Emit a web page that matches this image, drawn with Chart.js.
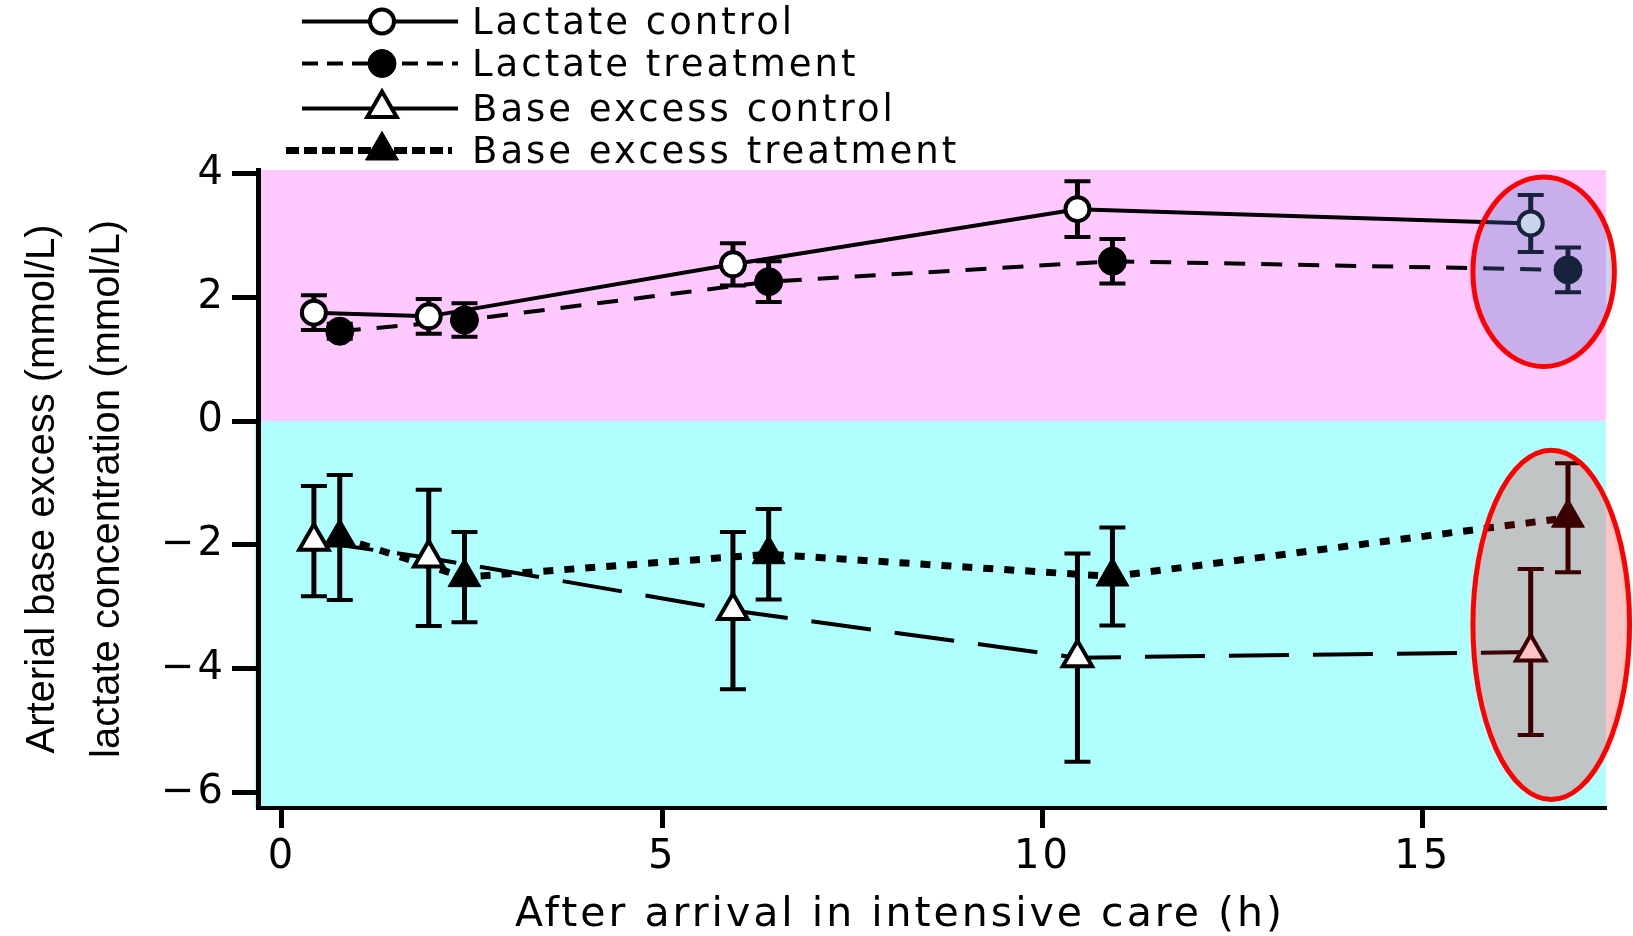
<!DOCTYPE html>
<html lang="en">
<head>
  <meta charset="UTF-8" />
  <title>Lactate and base excess after arrival in intensive care</title>
  <script src="https://cdn.jsdelivr.net/npm/chart.js"></script>
  <style>
    * {
      margin: 0;
      padding: 0;
      box-sizing: border-box;
    }
    body {
      background: #fff;
      width: 1633px;
      height: 936px;
      overflow: hidden;
    }
    #wrap {
      position: relative;
      width: 1633px;
      height: 936px;
    }
    #legend {
      position: absolute;
      left: 0;
      top: 0;
      width: 1000px;
      height: 170px;
    }
    .row {
      position: absolute;
      left: 0;
      width: 1000px;
      height: 43px;
    }
    .row canvas {
      position: absolute;
      left: 270px;
      top: 0;
    }
    .row span {
      position: absolute;
      left: 472px;
      top: 0;
      font: 37px 'DejaVu Sans', sans-serif;
      line-height: 43px;
      letter-spacing: 3px;
      color: #000;
      white-space: nowrap;
    }
  </style>
</head>

<body>
  <div id="wrap">
    <canvas id="grafico"></canvas>
    <div id="legend"></div>
  </div>

  <script>
    // sampling times (h) - the two groups were sampled at slightly different times
    const controlHours = [0.42, 1.93, 5.93, 10.46, 16.42];
    const treatHours = [0.76, 2.40, 6.40, 10.92, 16.91];

    // means and error bar half-lengths (mmol/L)
    const lactateControl = [1.75, 1.69, 2.53, 3.42, 3.19];
    const lactateControlErr = [0.28, 0.28, 0.34, 0.45, 0.46];
    const lactateTreat = [1.45, 1.63, 2.25, 2.58, 2.44];
    const lactateTreatErr = [0.12, 0.27, 0.33, 0.36, 0.36];
    const beControl = [-1.94, -2.21, -3.06, -3.82, -3.73];
    const beControlErr = [0.89, 1.10, 1.27, 1.68, 1.34];
    const beTreat = [-1.88, -2.52, -2.15, -2.51, -1.56];
    const beTreatErr = [1.01, 0.73, 0.73, 0.79, 0.88];

    const seriesNames = ['Lactate control', 'Lactate treatment', 'Base excess control', 'Base excess treatment'];
    const xTicks = [0, 5, 10, 15];
    const yTicks = [-6, -4, -2, 0, 2, 4];

    const errors = [lactateControlErr, lactateTreatErr, beControlErr, beTreatErr];

    // red ellipses around the last time point (data units)
    const highlights = [
      { x: 16.59, y: 2.41, rx: 0.93, ry: 1.53, fill: 'rgba(77, 117, 193, 0.3)' },
      { x: 16.69, y: -3.29, rx: 1.03, ry: 2.82, fill: 'rgba(252, 0, 0, 0.23)' }
    ];

    const toPoints = (xs, ys) => xs.map((h, i) => ({ x: h, y: ys[i] }));

    // pink area above zero, cyan below
    const bands = {
      id: 'bands',
      beforeDraw(chart) {
        const { ctx, chartArea: a, scales: { y } } = chart;
        const y0 = y.getPixelForValue(0);
        ctx.letterSpacing = '0px';
        ctx.save();
        ctx.fillStyle = '#ffc8ff';
        ctx.fillRect(a.left, a.top, a.right - a.left, y0 - a.top);
        ctx.fillStyle = '#b0ffff';
        ctx.fillRect(a.left - 3, y0, a.right - a.left + 3, a.bottom - y0);
        ctx.restore();
      }
    };

    const errorBars = {
      id: 'errorBars',
      beforeDatasetsDraw(chart) {
        const { ctx, scales: { x, y } } = chart;
        ctx.save();
        ctx.strokeStyle = '#000';
        chart.data.datasets.forEach((ds, i) => {
          ds.data.forEach((p, k) => {
            const px = x.getPixelForValue(p.x);
            const top = y.getPixelForValue(p.y + errors[i][k]);
            const bot = y.getPixelForValue(p.y - errors[i][k]);
            ctx.lineWidth = 5;
            ctx.beginPath();
            ctx.moveTo(px, top);
            ctx.lineTo(px, bot);
            ctx.stroke();
            ctx.lineWidth = 4;
            ctx.beginPath();
            ctx.moveTo(px - 13, top);
            ctx.lineTo(px + 13, top);
            ctx.moveTo(px - 13, bot);
            ctx.lineTo(px + 13, bot);
            ctx.stroke();
          });
        });
        ctx.restore();
      }
    };

    const ellipses = {
      id: 'ellipses',
      afterDatasetsDraw(chart) {
        const { ctx, scales: { x, y } } = chart;
        ctx.save();
        highlights.forEach((h) => {
          const cx = x.getPixelForValue(h.x);
          const cy = y.getPixelForValue(h.y);
          const rx = x.getPixelForValue(h.x + h.rx) - cx;
          const ry = cy - y.getPixelForValue(h.y + h.ry);
          ctx.beginPath();
          ctx.ellipse(cx, cy, rx, ry, 0, 0, Math.PI * 2);
          ctx.fillStyle = h.fill;
          ctx.fill();
          ctx.lineWidth = 5;
          ctx.strokeStyle = '#ff0000';
          ctx.stroke();
        });
        ctx.restore();
        // tick labels and x title (drawn after this) are wide in the original
        ctx.letterSpacing = '3px';
      }
    };

    Chart.defaults.font.family = "'DejaVu Sans', sans-serif";
    Chart.defaults.color = '#000';

    const grafico = new Chart(document.getElementById('grafico'), {
      type: 'line',
      data: {
        datasets: [
          {
            label: seriesNames[0],
            data: toPoints(controlHours, lactateControl),
            borderColor: '#000',
            borderWidth: 4,
            pointStyle: 'circle',
            pointRadius: 12,
            pointBorderWidth: 4,
            pointBorderColor: '#000',
            pointBackgroundColor: '#fff'
          },
          {
            label: seriesNames[1],
            data: toPoints(treatHours, lactateTreat),
            borderColor: '#000',
            borderWidth: 4,
            borderDash: [21, 16],
            pointStyle: 'circle',
            pointRadius: 14,
            pointBorderWidth: 1,
            pointBorderColor: '#000',
            pointBackgroundColor: '#000'
          },
          {
            label: seriesNames[2],
            data: toPoints(controlHours, beControl),
            borderColor: '#000',
            borderWidth: 4,
            borderDash: [60, 24],
            pointStyle: 'triangle',
            pointRadius: 17,
            pointBorderWidth: 4,
            pointBorderColor: '#000',
            pointBackgroundColor: '#fff'
          },
          {
            label: seriesNames[3],
            data: toPoints(treatHours, beTreat),
            borderColor: '#000',
            borderWidth: 7,
            borderDash: [10, 11],
            pointStyle: 'triangle',
            pointRadius: 19,
            pointBorderWidth: 1,
            pointBorderColor: '#000',
            pointBackgroundColor: '#000'
          }
        ]
      },
      options: {
        responsive: true,
        maintainAspectRatio: false,
        animation: false,
        layout: { padding: { top: 170, right: 27, bottom: 0, left: 0 } },
        elements: { line: { tension: 0 } },
        plugins: {
          legend: { display: false },
          tooltip: { enabled: false }
        },
        scales: {
          x: {
            type: 'linear',
            min: -0.315,
            max: 17.41,
            afterFit: (s) => { s.height = 128; },
            afterBuildTicks: (s) => { s.ticks = xTicks.map((v) => ({ value: v })); },
            grid: { display: true, drawOnChartArea: false, drawTicks: true, tickLength: 20, tickWidth: 5, tickColor: '#000', z: 1 },
            border: { display: true, color: '#000', width: 4, z: 2 },
            ticks: { z: 1, color: '#000', padding: 6, maxRotation: 0, font: { size: 40 } },
            title: {
              display: true,
              text: 'After arrival in intensive care (h)\u00a0\u00a0\u00a0\u00a0',
              color: '#000',
              font: { size: 41, lineHeight: 1 },
              padding: 0
            }
          },
          y: {
            min: -6.247,
            max: 4.053,
            afterFit: (s) => { s.width = 258; },
            afterBuildTicks: (s) => { s.ticks = yTicks.map((v) => ({ value: v })); },
            grid: { display: true, drawOnChartArea: false, drawTicks: true, tickLength: 26, tickWidth: 5, tickColor: '#000' },
            border: { display: true, color: '#000', width: 5 },
            ticks: {
              z: 1,
              color: '#000',
              padding: 6,
              font: { size: 40 },
              callback: (v) => (v < 0 ? '\u2212' + (-v) : String(v))
            },
            title: {
              display: true,
              text: ['Arterial base excess (mmol/L)', 'lactate concentration (mmol/L)'],
              color: '#000',
              font: { family: "'Liberation Sans', sans-serif", size: 40, lineHeight: 1.625 },
              padding: { top: 10, bottom: 0 }
            }
          }
        }
      },
      plugins: [bands, errorBars, ellipses]
    });

    // legend above the plot: line sample + marker, then the series name
    const legendTops = [0, 42, 87, 129];
    const legendDash = [[], [16, 9], [], [13, 5]];
    const legendBox = document.getElementById('legend');

    grafico.data.datasets.forEach((ds, i) => {
      const row = document.createElement('div');
      row.className = 'row';
      row.style.top = legendTops[i] + 'px';

      const c = document.createElement('canvas');
      c.width = 200;
      c.height = 43;
      const g = c.getContext('2d');
      g.strokeStyle = '#000';
      g.lineWidth = ds.borderWidth;
      g.setLineDash(legendDash[i]);
      g.beginPath();
      g.moveTo(i === 3 ? 16 : 32, 21.5);
      g.lineTo(i === 3 ? 182 : 188, 21.5);
      g.stroke();
      g.setLineDash([]);
      g.fillStyle = ds.pointBackgroundColor;
      g.lineWidth = ds.pointBorderWidth;
      Chart.helpers.drawPoint(g, {
        pointStyle: ds.pointStyle,
        radius: ds.pointRadius,
        borderWidth: ds.pointBorderWidth,
        rotation: 0
      }, 112, 21.5);

      const txt = document.createElement('span');
      txt.textContent = ds.label;

      row.appendChild(c);
      row.appendChild(txt);
      legendBox.appendChild(row);
    });
  </script>
</body>
</html>
